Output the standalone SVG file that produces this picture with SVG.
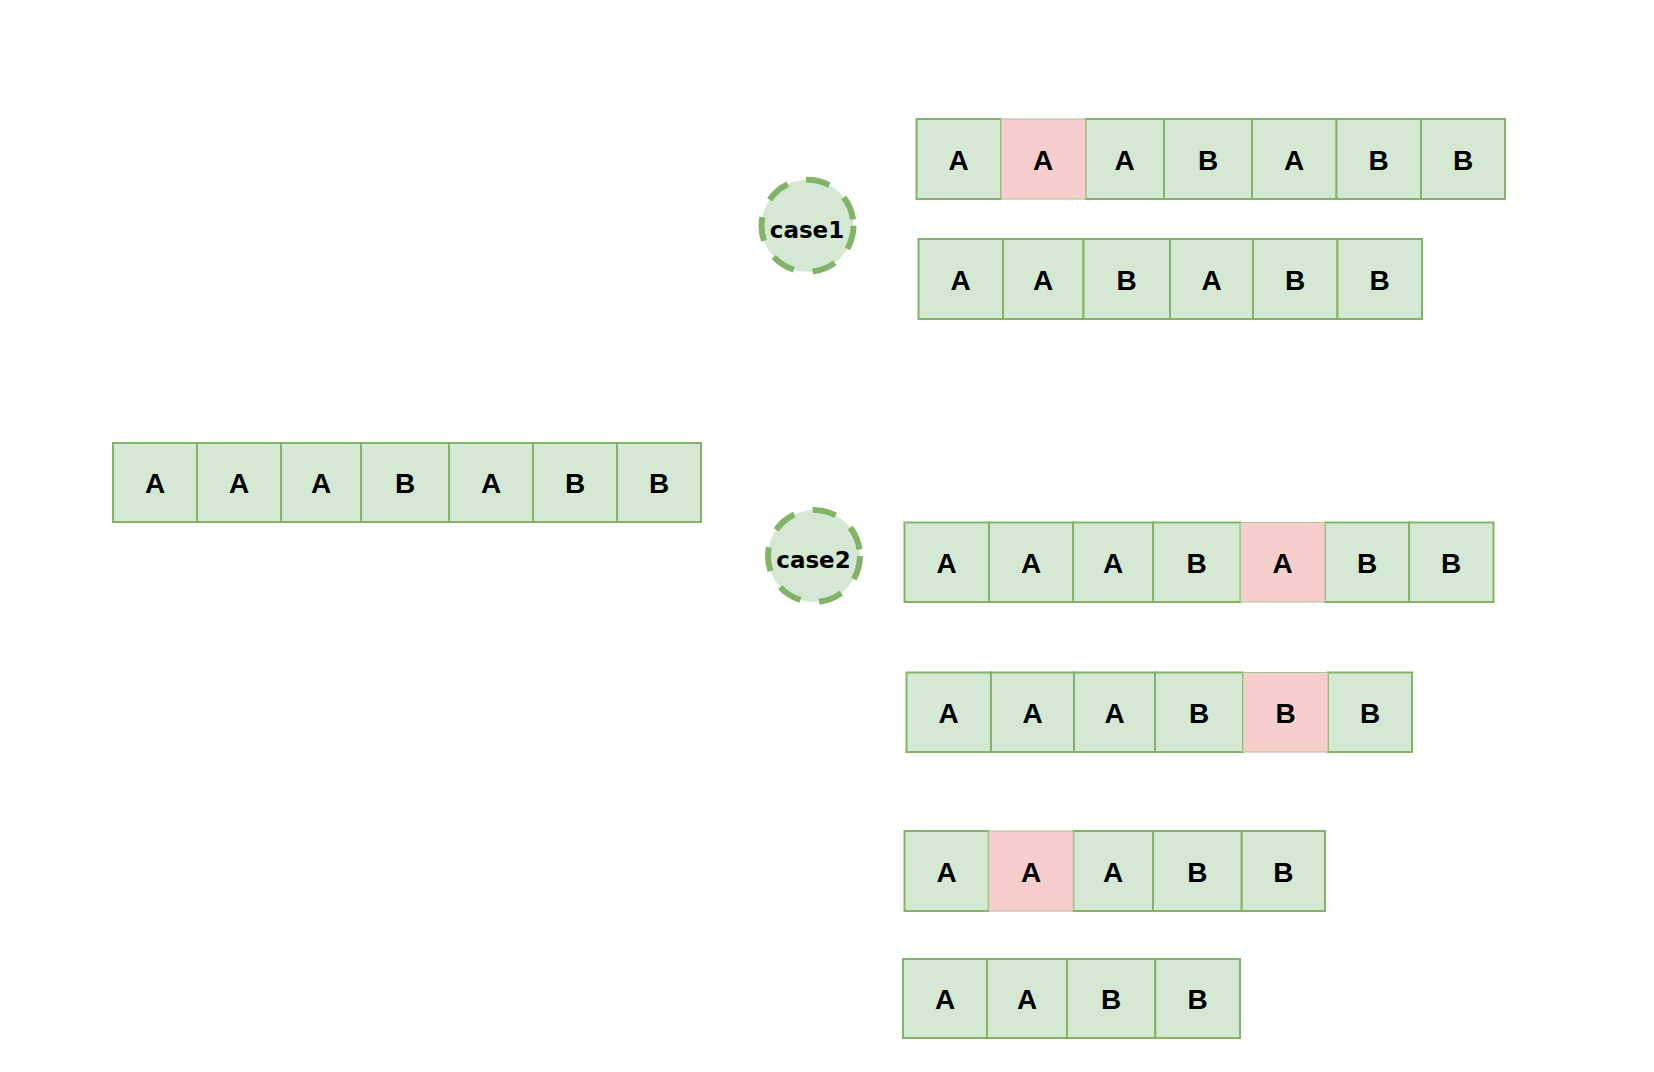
<svg xmlns="http://www.w3.org/2000/svg" width="1654" height="1072" viewBox="0 0 1654 1072">
<style>
.g{fill:#d5e8d4;stroke:#82b366;stroke-width:2}
.p{fill:#f8cecc;stroke:#a9c495;stroke-width:1}
.t{font-family:"Liberation Sans",Arial,sans-serif;font-weight:bold;font-size:28px;fill:#000;text-anchor:middle}
.c{fill:#d5e8d4;stroke:#82b366;stroke-width:6;stroke-dasharray:24 19}
.ct{font-family:"DejaVu Sans",sans-serif;font-weight:bold;font-size:23px;fill:#000;text-anchor:middle}
</style>
<rect width="1654" height="1072" fill="#fff"/>
<g id="connectors"/>
<g id="row0">
<rect class="g" x="113" y="443" width="84" height="79"/><text class="t" x="155" y="492.5">A</text>
<rect class="g" x="197" y="443" width="84" height="79"/><text class="t" x="239" y="492.5">A</text>
<rect class="g" x="281" y="443" width="80" height="79"/><text class="t" x="321" y="492.5">A</text>
<rect class="g" x="361" y="443" width="88" height="79"/><text class="t" x="405" y="492.5">B</text>
<rect class="g" x="449" y="443" width="84" height="79"/><text class="t" x="491" y="492.5">A</text>
<rect class="g" x="533" y="443" width="84" height="79"/><text class="t" x="575" y="492.5">B</text>
<rect class="g" x="617" y="443" width="84" height="79"/><text class="t" x="659" y="492.5">B</text>
</g>
<g id="case1">
<circle class="c" cx="807.5" cy="225.8" r="46"/>
<text class="ct" x="807" y="237.5">case1</text>
</g>
<g id="row1">
<rect class="g" x="916.5" y="119" width="84.5" height="80"/><text class="t" x="958.7" y="169.5">A</text>
<rect class="g" x="1085.5" y="119" width="78.5" height="80"/><text class="t" x="1124.7" y="169.5">A</text>
<rect class="g" x="1164" y="119" width="88" height="80"/><text class="t" x="1208" y="169.5">B</text>
<rect class="g" x="1252" y="119" width="84.5" height="80"/><text class="t" x="1294.2" y="169.5">A</text>
<rect class="g" x="1336.5" y="119" width="84.5" height="80"/><text class="t" x="1378.7" y="169.5">B</text>
<rect class="g" x="1421" y="119" width="84" height="80"/><text class="t" x="1463" y="169.5">B</text>
<rect class="p" x="1001" y="119" width="84.5" height="80"/><text class="t" x="1043.2" y="169.5">A</text>
</g>
<g id="row2">
<rect class="g" x="918.5" y="239" width="84.5" height="80"/><text class="t" x="960.7" y="289.5">A</text>
<rect class="g" x="1003" y="239" width="80.5" height="80"/><text class="t" x="1043.2" y="289.5">A</text>
<rect class="g" x="1083.5" y="239" width="86.5" height="80"/><text class="t" x="1126.7" y="289.5">B</text>
<rect class="g" x="1170" y="239" width="83" height="80"/><text class="t" x="1211.5" y="289.5">A</text>
<rect class="g" x="1253" y="239" width="84.5" height="80"/><text class="t" x="1295.2" y="289.5">B</text>
<rect class="g" x="1337.5" y="239" width="84.5" height="80"/><text class="t" x="1379.7" y="289.5">B</text>
</g>
<g id="case2">
<circle class="c" cx="814" cy="556" r="46"/>
<text class="ct" x="813.5" y="567.5">case2</text>
</g>
<g id="row3">
<rect class="g" x="904.5" y="522.5" width="84.5" height="79.5"/><text class="t" x="946.7" y="572.5">A</text>
<rect class="g" x="989" y="522.5" width="84" height="79.5"/><text class="t" x="1031" y="572.5">A</text>
<rect class="g" x="1073" y="522.5" width="80" height="79.5"/><text class="t" x="1113" y="572.5">A</text>
<rect class="g" x="1153" y="522.5" width="87.5" height="79.5"/><text class="t" x="1196.7" y="572.5">B</text>
<rect class="g" x="1325" y="522.5" width="84" height="79.5"/><text class="t" x="1367" y="572.5">B</text>
<rect class="g" x="1409" y="522.5" width="84.5" height="79.5"/><text class="t" x="1451.2" y="572.5">B</text>
<rect class="p" x="1240.5" y="522.5" width="84.5" height="79.5"/><text class="t" x="1282.7" y="572.5">A</text>
</g>
<g id="row4">
<rect class="g" x="906.5" y="672.5" width="84.5" height="79.5"/><text class="t" x="948.7" y="722.5">A</text>
<rect class="g" x="991" y="672.5" width="83" height="79.5"/><text class="t" x="1032.5" y="722.5">A</text>
<rect class="g" x="1074" y="672.5" width="81" height="79.5"/><text class="t" x="1114.5" y="722.5">A</text>
<rect class="g" x="1155" y="672.5" width="88" height="79.5"/><text class="t" x="1199" y="722.5">B</text>
<rect class="g" x="1328" y="672.5" width="84" height="79.5"/><text class="t" x="1370" y="722.5">B</text>
<rect class="p" x="1243" y="672.5" width="85" height="79.5"/><text class="t" x="1285.5" y="722.5">B</text>
</g>
<g id="row5">
<rect class="g" x="904.5" y="831" width="84.2" height="80"/><text class="t" x="946.6" y="881.5">A</text>
<rect class="g" x="1073.3" y="831" width="79.7" height="80"/><text class="t" x="1113.1" y="881.5">A</text>
<rect class="g" x="1153" y="831" width="88.7" height="80"/><text class="t" x="1197.3" y="881.5">B</text>
<rect class="g" x="1241.7" y="831" width="83.3" height="80"/><text class="t" x="1283.3" y="881.5">B</text>
<rect class="p" x="988.7" y="831" width="84.6" height="80"/><text class="t" x="1031" y="881.5">A</text>
</g>
<g id="row6">
<rect class="g" x="903" y="959" width="84" height="79"/><text class="t" x="945" y="1008.5">A</text>
<rect class="g" x="987" y="959" width="80" height="79"/><text class="t" x="1027" y="1008.5">A</text>
<rect class="g" x="1067" y="959" width="88.3" height="79"/><text class="t" x="1111.1" y="1008.5">B</text>
<rect class="g" x="1155.3" y="959" width="84.7" height="79"/><text class="t" x="1197.6" y="1008.5">B</text>
</g>
</svg>
